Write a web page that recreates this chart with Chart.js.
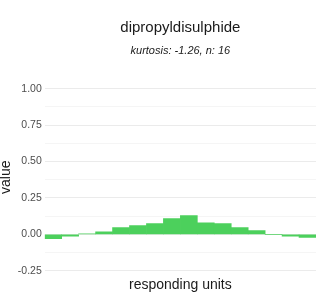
<!DOCTYPE html>
<html>
<head>
<meta charset="utf-8">
<script src="https://cdn.jsdelivr.net/npm/chart.js@4"></script>
<style>
  html, body { margin: 0; padding: 0; background: #ffffff; }
  #wrap { width: 320px; height: 300px; }
</style>
</head>
<body>
<div id="wrap"><canvas id="histChart" width="320" height="300"></canvas></div>
<script>
const units = ['1', '2', '3', '4', '5', '6', '7', '8', '9', '10', '11', '12', '13', '14', '15', '16'];
const values = [-0.03, -0.012, 0.003, 0.018, 0.046, 0.06, 0.074, 0.108, 0.129, 0.08, 0.074, 0.046, 0.027, 0.0, -0.012, -0.02];
const yTicks = [-0.25, 0, 0.25, 0.5, 0.75, 1];

const fontFamily = '"Liberation Sans", Arial, sans-serif';

document.addEventListener('DOMContentLoaded', function() {
    const ctx = document.getElementById('histChart');

    new Chart(ctx, {
        type: 'bar',
        data: {
            labels: units,
            datasets: [{
                label: 'value',
                data: values,
                backgroundColor: 'rgb(76, 208, 92)',
                borderWidth: 0,
                barPercentage: 1,
                categoryPercentage: 1
            }]
        },
        options: {
            responsive: false,
            animation: false,
            layout: {
                padding: { left: -2, right: 4, top: 14, bottom: 6 }
            },
            scales: {
                x: {
                    grid: { display: false },
                    border: { display: false },
                    ticks: { display: false },
                    title: {
                        display: true,
                        text: 'responding units',
                        color: '#1a1a1a',
                        font: { family: fontFamily, size: 14 },
                        padding: { top: -6, bottom: 0 }
                    }
                },
                y: {
                    min: -0.28,
                    max: 1.065,
                    afterBuildTicks: function(scale) {
                        const out = [];
                        for (let v = -0.25; v <= 1.0001; v += 0.125) {
                            out.push({ value: Math.round(v * 1000) / 1000 });
                        }
                        scale.ticks = out;
                    },
                    grid: {
                        drawTicks: false,
                        color: function(c) {
                            const v = c.tick ? c.tick.value : 0;
                            return yTicks.some(t => Math.abs(t - v) < 1e-6) ? '#ebebeb' : '#f5f5f5';
                        },
                        lineWidth: 1
                    },
                    border: { display: false },
                    ticks: {
                        color: '#4d4d4d',
                        padding: 3,
                        font: { family: fontFamily, size: 10.5 },
                        callback: function(v) {
                            return yTicks.some(t => Math.abs(t - v) < 1e-6) ? v.toFixed(2) : '';
                        }
                    },
                    title: {
                        display: true,
                        text: 'value',
                        color: '#1a1a1a',
                        font: { family: fontFamily, size: 14 },
                        padding: { top: 0, bottom: 0 }
                    }
                }
            },
            plugins: {
                legend: { display: false },
                tooltip: { enabled: false },
                title: {
                    display: true,
                    text: 'dipropyldisulphide',
                    fullSize: false,
                    color: '#1a1a1a',
                    font: { family: fontFamily, size: 15, weight: 'normal' },
                    padding: { top: 5, bottom: 6 }
                },
                subtitle: {
                    display: true,
                    text: 'kurtosis: -1.26, n: 16',
                    fullSize: false,
                    color: '#1a1a1a',
                    font: { family: fontFamily, size: 11, style: 'italic' },
                    padding: { top: 1, bottom: 22 }
                }
            }
        }
    });
});
</script>
</body>
</html>
